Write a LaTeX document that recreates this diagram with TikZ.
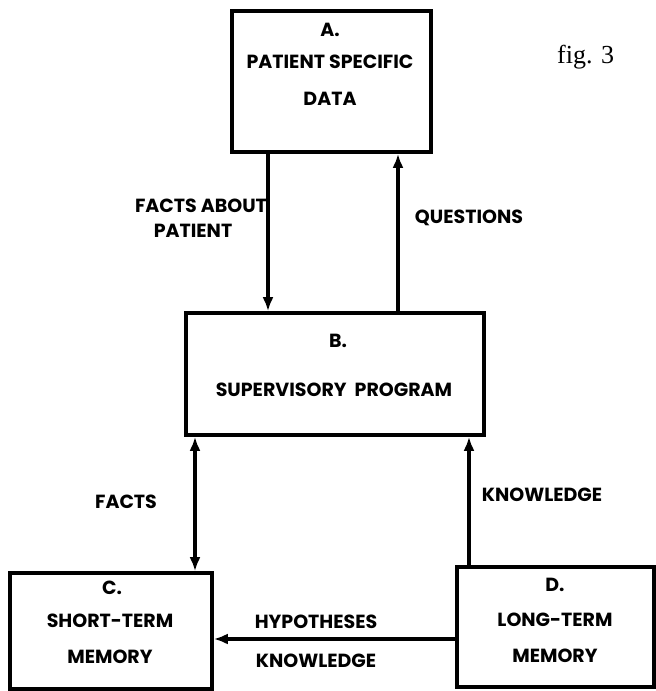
\documentclass[tikz,border=0pt]{standalone}
\usepackage{fontspec}
\setmainfont{Poppins}
\newfontfamily\figfont{Liberation Serif}
\usetikzlibrary{arrows.meta}
\begin{document}
\begin{tikzpicture}[x=1pt,y=-1pt,
  box/.style={draw, line width=3.6pt, rectangle, inner sep=0pt},
  lbl/.style={font=\fontsize{19}{22}\selectfont\bfseries, inner sep=0pt},
  tip/.tip={Latex[length=14pt,width=11pt]},
  flow/.style={line width=3.4pt, -tip},
  both/.style={line width=3.4pt, tip-tip}]
\useasboundingbox (0,0) rectangle (656,691);

% the four blocks
\node[box, minimum width=199pt, minimum height=141pt] (A) at (331.5,81.5) {};
\node[box, minimum width=298pt, minimum height=122pt] (B) at (335,374) {};
\node[box, minimum width=202pt, minimum height=116pt] (C) at (111,631) {};
\node[box, minimum width=197pt, minimum height=120pt] (D) at (555.5,627) {};

% block texts
\node[lbl] (A1) at (330,30) {A.};
\node[lbl] (A2) at (330,62) {PATIENT SPECIFIC};
\node[lbl] (A3) at (330,99) {DATA};
\node[lbl] (B1) at (338,341) {B.};
\node[lbl] (B2) at (334,390) {SUPERVISORY \ PROGRAM};
\node[lbl] (C1) at (112,588) {C.};
\node[lbl] (C2) at (110,621) {SHORT-TERM};
\node[lbl] (C3) at (110,657) {MEMORY};
\node[lbl] (D1) at (555,585) {D.};
\node[lbl] (D2) at (555,620) {LONG-TERM};
\node[lbl] (D3) at (555,656) {MEMORY};

% connector positions
\coordinate (xab) at (268,0);
\coordinate (xba) at (398,0);
\coordinate (xbc) at (195,0);
\coordinate (xdb) at (469,0);
\coordinate (ydc) at (0,639);

% connectors
\draw[flow] (A.south -| xab) -- (B.north -| xab);
\draw[flow] (B.north -| xba) -- (A.south -| xba);
\draw[both] (B.south -| xbc) -- (C.north -| xbc);
\draw[flow] (D.north -| xdb) -- (B.south -| xdb);
\draw[flow] (D.west |- ydc) -- (C.east |- ydc);

% connector labels
\node[lbl] (l1) at (201,206) {FACTS ABOUT};
\node[lbl] (l2) at (193,231) {PATIENT};
\node[lbl] (l3) at (469,218) {QUESTIONS};
\node[lbl] (l4) at (126,502) {FACTS};
\node[lbl] (l5) at (542,495) {KNOWLEDGE};
\node[lbl] (l6) at (316,622) {HYPOTHESES};
\node[lbl] (l7) at (316,661) {KNOWLEDGE};

\node[anchor=base west, inner sep=0pt, font=\figfont\fontsize{26}{30}\selectfont] (fig) at (557,63) {fig. 3};
\end{tikzpicture}
\end{document}
